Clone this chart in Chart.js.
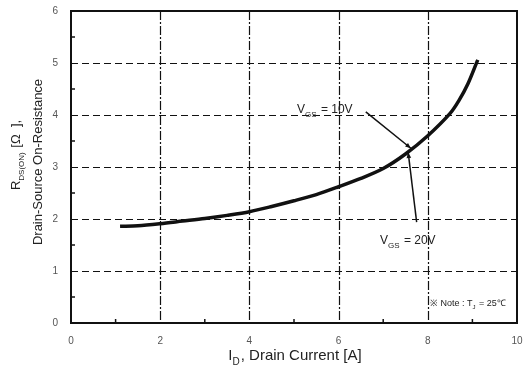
<!DOCTYPE html>
<html>
<head>
<meta charset="utf-8">
<script src="https://cdn.jsdelivr.net/npm/chart.js@4.4.0/dist/chart.umd.min.js"></script>
<style>
  html, body { margin: 0; padding: 0; background: #fff; }
  #wrap { width: 524px; height: 374px; }
</style>
</head>
<body>
<div id="wrap"><canvas id="c" width="524" height="374"></canvas></div>
<script>
// Drain current [A] vs on-resistance [ohm]
const drainCurrent = [1.1, 1.5, 2, 2.5, 3, 3.5, 4, 4.5, 5, 5.5, 6, 6.5, 7, 7.5, 8, 8.5, 8.7, 8.9, 9.12];
const onResistance = [1.86, 1.87, 1.91, 1.96, 2.01, 2.07, 2.14, 2.24, 2.35, 2.47, 2.62, 2.78, 2.97, 3.25, 3.6, 4.03, 4.28, 4.6, 5.06];

const xTicks = [0, 2, 4, 6, 8, 10];
const yTicks = [0, 1, 2, 3, 4, 5, 6];

// annotation arrows in data units: [fromX, fromY, toX, toY]
const arrow10V = [6.61, 4.06, 7.62, 3.36];
const arrow20V = [7.75, 1.94, 7.56, 3.28];

const ink = '#111';
const FONT = '"Liberation Sans", Arial, sans-serif';

const decor = {
  id: 'decor',
  beforeDatasetsDraw(chart) {
    const { ctx, chartArea: a, scales: { x, y } } = chart;
    ctx.save();
    ctx.strokeStyle = ink;
    ctx.lineWidth = 1.2;
    // horizontal dashed grid
    ctx.setLineDash([7, 4]);
    for (let v = 1; v <= 5; v++) {
      const py = Math.round(y.getPixelForValue(v)) + 0.5;
      ctx.beginPath(); ctx.moveTo(a.left, py); ctx.lineTo(a.right, py); ctx.stroke();
    }
    // vertical dash-dot grid
    ctx.setLineDash([9, 2, 2, 2]);
    for (let v = 2; v <= 8; v += 2) {
      const px = Math.round(x.getPixelForValue(v)) + 0.5;
      ctx.beginPath(); ctx.moveTo(px, a.top); ctx.lineTo(px, a.bottom); ctx.stroke();
    }
    ctx.setLineDash([]);
    // inward minor ticks
    ctx.lineWidth = 1.5;
    for (let v = 1; v < 10; v += 2) {
      const px = x.getPixelForValue(v);
      ctx.beginPath(); ctx.moveTo(px, a.bottom); ctx.lineTo(px, a.bottom - 4); ctx.stroke();
    }
    for (let v = 0.5; v < 6; v += 1) {
      const py = y.getPixelForValue(v);
      ctx.beginPath(); ctx.moveTo(a.left, py); ctx.lineTo(a.left + 4, py); ctx.stroke();
    }
    ctx.restore();
  },
  afterDraw(chart) {
    const { ctx, chartArea: a, scales: { x, y } } = chart;
    ctx.save();
    // frame
    ctx.strokeStyle = ink;
    ctx.lineWidth = 2;
    ctx.strokeRect(a.left, a.top, a.right - a.left, a.bottom - a.top);

    // arrows
    ctx.lineWidth = 1.5;
    [arrow10V, arrow20V].forEach(([x0, y0, x1, y1]) => {
      const p0 = [x.getPixelForValue(x0), y.getPixelForValue(y0)];
      const p1 = [x.getPixelForValue(x1), y.getPixelForValue(y1)];
      ctx.beginPath(); ctx.moveTo(p0[0], p0[1]); ctx.lineTo(p1[0], p1[1]); ctx.stroke();
      const ang = Math.atan2(p1[1] - p0[1], p1[0] - p0[0]);
      ctx.beginPath();
      ctx.moveTo(p1[0], p1[1]);
      ctx.lineTo(p1[0] - 6 * Math.cos(ang - 0.4), p1[1] - 6 * Math.sin(ang - 0.4));
      ctx.lineTo(p1[0] - 6 * Math.cos(ang + 0.4), p1[1] - 6 * Math.sin(ang + 0.4));
      ctx.closePath(); ctx.fillStyle = ink; ctx.fill();
    });

    const widths = (txt, subTxt, rest, size) => {
      ctx.font = size + 'px ' + FONT;
      const w1 = ctx.measureText(txt).width;
      ctx.font = Math.round(size * 0.65) + 'px ' + FONT;
      const w2 = ctx.measureText(subTxt).width;
      ctx.font = size + 'px ' + FONT;
      const w3 = ctx.measureText(rest).width;
      return w1 + w2 + w3 + 1;
    };
    const sub = (txt, subTxt, rest, px, py, size) => {
      ctx.font = size + 'px ' + FONT;
      ctx.fillText(txt, px, py);
      let w = ctx.measureText(txt).width;
      ctx.font = Math.round(size * 0.65) + 'px ' + FONT;
      ctx.fillText(subTxt, px + w, py + Math.round(size * 0.3));
      w += ctx.measureText(subTxt).width;
      ctx.font = size + 'px ' + FONT;
      ctx.fillText(rest, px + w + 1, py);
    };
    ctx.fillStyle = '#222';
    ctx.textBaseline = 'alphabetic';
    ctx.textAlign = 'left';
    sub('V', 'GS', ' = 10V', 297, 113, 12);
    sub('V', 'GS', ' = 20V', 380, 244, 12);
    sub('\u203B Note : T', 'J', ' = 25\u2103', 430, 306, 9);

    // x axis title
    const xw = widths('I', 'D', ', Drain Current [A]', 15);
    sub('I', 'D', ', Drain Current [A]', 295 - xw / 2, 360, 15);

    // y axis title (rotated, two lines)
    ctx.translate(0, (a.top + a.bottom) / 2);
    ctx.rotate(-Math.PI / 2);
    const yw = widths('R', 'DS(ON)', ' [\u03A9  ],', 13);
    sub('R', 'DS(ON)', ' [\u03A9  ],', -yw / 2 + 12, 20, 13);
    ctx.font = '13px ' + FONT;
    ctx.textAlign = 'center';
    ctx.fillText('Drain-Source On-Resistance', 5, 42);
    ctx.restore();
  }
};

new Chart(document.getElementById('c'), {
  type: 'scatter',
  data: {
    datasets: [{
      data: drainCurrent.map((v, i) => ({ x: v, y: onResistance[i] })),
      showLine: true,
      borderColor: ink,
      borderWidth: 3.5,
      pointRadius: 0,
      tension: 0.3
    }]
  },
  options: {
    responsive: false,
    animation: false,
    layout: { padding: { top: 11, right: 7, left: 0, bottom: 0 } },
    plugins: { legend: { display: false }, tooltip: { enabled: false } },
    scales: {
      x: {
        type: 'linear', min: 0, max: 10,
        afterBuildTicks: s => { s.ticks = xTicks.map(v => ({ value: v })); },
        afterFit: s => { s.height = 51; s.paddingLeft = 0; s.paddingRight = 0; },
        grid: { display: false },
        border: { display: false },
        ticks: { color: '#555', font: { size: 10, family: FONT }, padding: 4, maxRotation: 0 }
      },
      y: {
        type: 'linear', min: 0, max: 6,
        afterBuildTicks: s => { s.ticks = yTicks.map(v => ({ value: v })); },
        afterFit: s => { s.width = 71; s.paddingTop = 0; s.paddingBottom = 0; },
        grid: { display: false },
        border: { display: false },
        ticks: { color: '#555', font: { size: 10, family: FONT }, padding: 5 }
      }
    }
  },
  plugins: [decor]
});
</script>
</body>
</html>
